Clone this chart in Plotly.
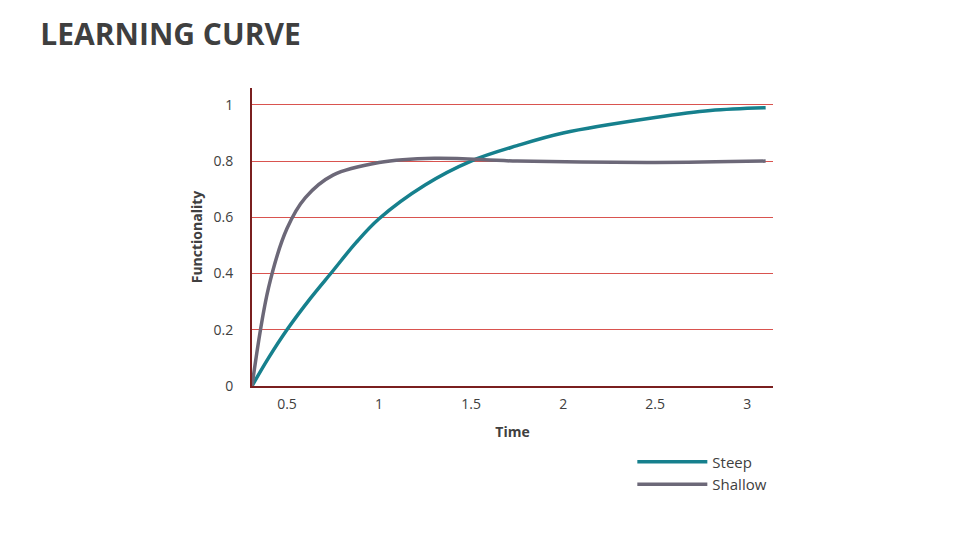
import plotly.graph_objects as go

steep_x = [0.31, 0.4, 0.5, 0.625, 0.75, 0.875, 1.0, 1.25, 1.5, 1.75, 2.0, 2.5, 2.8, 3.1]
steep_y = [0.0, 0.1, 0.2, 0.31, 0.41, 0.51, 0.595, 0.715, 0.8, 0.855, 0.9, 0.955, 0.98, 0.99]
shallow_x = [0.31, 0.4, 0.5, 0.6, 0.75, 1.0, 1.3, 1.75, 2.5, 3.1]
shallow_y = [0.0, 0.35, 0.56, 0.67, 0.75, 0.795, 0.81, 0.80, 0.795, 0.80]
x_ticks = [0.5, 1, 1.5, 2, 2.5, 3]
y_ticks = [0, 0.2, 0.4, 0.6, 0.8, 1]

fig = go.Figure()
fig.add_trace(go.Scatter(x=steep_x, y=steep_y, name="Steep", mode="lines",
                         line=dict(color="#16808d", width=3.5, shape="spline")))
fig.add_trace(go.Scatter(x=shallow_x, y=shallow_y, name="Shallow", mode="lines",
                         line=dict(color="#6c6878", width=3.5, shape="spline")))
fig.update_layout(
    width=952, height=532, paper_bgcolor="white", plot_bgcolor="white",
    margin=dict(l=244, r=187, t=80, b=154),
    font=dict(family="Open Sans, Lato, sans-serif", color="#404040", size=14),
    title=dict(text="<b>LEARNING CURVE</b>", x=0.034, xanchor="left", y=0.95, yanchor="middle",
               font=dict(size=30, color="#3f3f3f", family="Open Sans, sans-serif")),
    xaxis=dict(range=[0.31, 3.14], tickvals=x_ticks, ticktext=[str(v) for v in x_ticks],
               showgrid=False, zeroline=False, showline=True, linecolor="#7a1f1f", linewidth=2,
               title=dict(text="<b>Time</b>", font=dict(size=14)), ticks="", ticklabelstandoff=4),
    yaxis=dict(range=[0, 1.06], tickvals=y_ticks, ticktext=["0", "0.2", "0.4", "0.6", "0.8", "1"],
               showgrid=True, gridcolor="#d9534f", gridwidth=0.8, zeroline=False,
               showline=True, linecolor="#7a1f1f", linewidth=2, ticks="", ticklabelstandoff=14,
               title=dict(text="<b>Functionality</b>", font=dict(size=14), standoff=8)),
    legend=dict(x=0.73, y=-0.2, xanchor="left", yanchor="top", font=dict(size=15),
                bgcolor="rgba(0,0,0,0)", itemwidth=70),
)
fig.write_html("out.html")
